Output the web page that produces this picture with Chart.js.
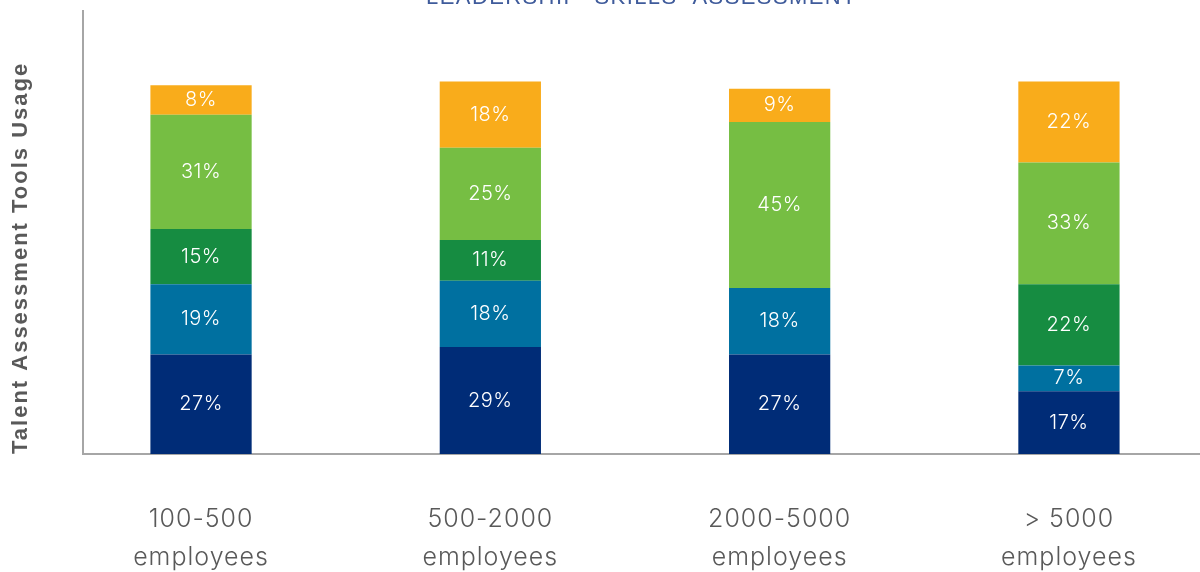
<!DOCTYPE html>
<html>
<head>
<meta charset="utf-8">
<script src="https://cdn.jsdelivr.net/npm/chart.js@4/dist/chart.umd.min.js"></script>
<style>
  html, body { margin: 0; padding: 0; background: #fff; overflow: hidden; }
  #wrap { position: absolute; left: 0; top: -15px; width: 1200px; height: 638px; }
</style>
</head>
<body>
<div id="wrap"><canvas id="chart"></canvas></div>
<script>
/**
 * 차트 데이터
 */
const categories = [
  ['100-500', 'employees'],
  ['500-2000', 'employees'],
  ['2000-5000', 'employees'],
  ['> 5000', 'employees']
];
const seriesNames = ['Tool 1', 'Tool 2', 'Tool 3', 'Tool 4', 'Tool 5'];
const navyValues = [27, 29, 27, 17];
const blueValues = [19, 18, 18, 7];
const darkGreenValues = [15, 11, 0, 22];
const lightGreenValues = [31, 25, 45, 33];
const orangeValues = [8, 18, 9, 22];
const seriesColors = ['#002C77', '#0070A0', '#168C41', '#76BE43', '#F9AC1B'];
const chartTitle = 'LEADERSHIP  SKILLS  ASSESSMENT';
const yAxisTitle = 'Talent Assessment Tools Usage';

const allValues = [navyValues, blueValues, darkGreenValues, lightGreenValues, orangeValues];

/**
 * 특정 메서드에 자간 적용
 */
function withSpacing(obj, method, spacing) {
  if (!obj || obj[method]._spaced) return;
  const orig = obj[method];
  const fn = function (...args) {
    const ctx = this.ctx;
    const prev = ctx.letterSpacing;
    ctx.letterSpacing = spacing;
    orig.apply(this, args);
    ctx.letterSpacing = prev;
  };
  fn._spaced = true;
  obj[method] = fn;
}

const spacingPlugin = {
  id: 'spacing',
  beforeDraw(chart) {
    chart.ctx.letterSpacing = '1px';
    withSpacing(chart.scales.y, 'drawTitle', '2px');
    withSpacing(chart.titleBlock, 'draw', '1.4px');
  }
};

/**
 * 막대 안쪽 퍼센트 라벨
 */
const valueLabels = {
  id: 'valueLabels',
  afterDatasetsDraw(chart) {
    const ctx = chart.ctx;
    ctx.save();
    ctx.font = '300 20px Inter, "Noto Sans", sans-serif';
    ctx.fillStyle = '#ffffff';
    ctx.textAlign = 'center';
    ctx.textBaseline = 'middle';
    ctx.letterSpacing = '0.5px';
    chart.data.datasets.forEach((ds, i) => {
      const meta = chart.getDatasetMeta(i);
      meta.data.forEach((bar, j) => {
        const v = ds.data[j].y;
        if (!v) return;
        const { x, y, base } = bar.getProps(['x', 'y', 'base'], true);
        ctx.fillText(`${v}%`, x, (y + base) / 2);
      });
    });
    ctx.restore();
  }
};

const datasets = allValues.map((values, i) => ({
  label: seriesNames[i],
  data: values.map((v, j) => ({ x: j, y: v })),
  backgroundColor: seriesColors[i],
  borderWidth: 0,
  categoryPercentage: 1,
  barPercentage: 0.35
}));

new Chart(document.getElementById('chart'), {
  type: 'bar',
  data: { datasets },
  plugins: [spacingPlugin, valueLabels],
  options: {
    responsive: true,
    maintainAspectRatio: false,
    animation: false,
    layout: { padding: { left: 0, right: 0, top: 0, bottom: 0 } },
    plugins: {
      legend: { display: false },
      tooltip: { enabled: false },
      title: {
        display: true,
        fullSize: false,
        text: chartTitle,
        color: '#3F5B9B',
        font: { family: '"Liberation Sans", Arial, sans-serif', size: 22, weight: 'normal' },
        padding: { top: 0, bottom: 0 }
      }
    },
    scales: {
      x: {
        type: 'linear',
        stacked: true,
        offset: false,
        min: -0.408,
        max: 3.453,
        grid: { display: false, drawTicks: false },
        border: { display: true, color: '#A6A6A6', width: 2 },
        ticks: {
          stepSize: 1,
          includeBounds: false,
          autoSkip: false,
          maxRotation: 0,
          padding: 47,
          color: '#595959',
          font: { family: 'Inter, "Noto Sans", sans-serif', size: 25, weight: 300, lineHeight: 1.5 },
          callback: (v) => categories[v] || ''
        }
      },
      y: {
        stacked: true,
        min: 0,
        max: 120,
        grid: { display: false, drawTicks: false },
        border: { display: true, color: '#A6A6A6', width: 2 },
        ticks: { display: false },
        title: {
          display: true,
          text: yAxisTitle,
          align: 'start',
          color: '#595959',
          font: { family: '"Liberation Sans", Arial, sans-serif', size: 22, weight: 'bold', lineHeight: 1.2 },
          padding: { top: 7.8, bottom: 48.8 }
        }
      }
    }
  }
});
</script>
</body>
</html>
